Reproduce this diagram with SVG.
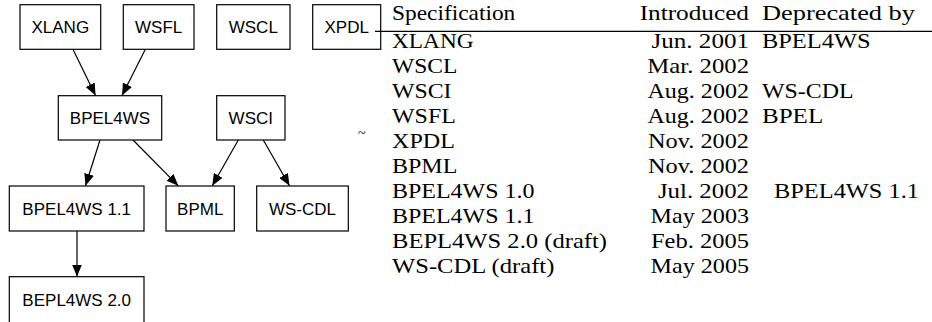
<svg xmlns="http://www.w3.org/2000/svg" width="932" height="322" viewBox="0 0 932 322">
<style>
.n rect{fill:#fff;stroke:#000;stroke-width:1.2}
.n text{font-family:"Liberation Sans",Arial,sans-serif;font-size:17px;fill:#000;text-anchor:middle}
.e line{stroke:#000;stroke-width:1.2;marker-end:url(#ah)}
.t text{font-family:"Liberation Serif","Times New Roman",serif;font-size:21px;fill:#000}
</style>
<defs>
<marker id="ah" viewBox="0 0 12 10" refX="12" refY="5" markerWidth="12" markerHeight="10" markerUnits="userSpaceOnUse" orient="auto">
<path d="M0,0 L12,5 L0,10 Z" fill="#000"/>
</marker>
</defs>
<g id="edges" class="e">
<line x1="73.3" y1="50" x2="95.5" y2="95.5"/>
<line x1="145" y1="50" x2="122" y2="95.5"/>
<line x1="100" y1="140" x2="85.5" y2="185.8"/>
<line x1="133" y1="140" x2="178.3" y2="185.8"/>
<line x1="238.3" y1="140" x2="212.3" y2="185.8"/>
<line x1="263.3" y1="140" x2="289.5" y2="185.8"/>
<line x1="77" y1="231" x2="77" y2="276.5"/>
</g>
<g id="n-xlang" class="n"><rect x="20" y="4.7" width="80.7" height="44.6"/><text x="60.3" y="33.3">XLANG</text></g>
<g id="n-wsfl" class="n"><rect x="123.3" y="4.7" width="70.7" height="44.6"/><text x="158.7" y="33.3">WSFL</text></g>
<g id="n-wscl" class="n"><rect x="216.7" y="4.7" width="73.3" height="44.6"/><text x="253.3" y="33.3">WSCL</text></g>
<g id="n-xpdl" class="n"><rect x="312.7" y="4.7" width="68" height="44.6"/><text x="346.7" y="33.3">XPDL</text></g>
<g id="n-bpel4ws" class="n"><rect x="58.3" y="95.7" width="103.4" height="44.3"/><text x="110" y="124.3">BPEL4WS</text></g>
<g id="n-wsci" class="n"><rect x="216.7" y="95.7" width="68.3" height="44.3"/><text x="250.8" y="124.3">WSCI</text></g>
<g id="n-bpel4ws11" class="n"><rect x="9.3" y="186" width="134.7" height="45"/><text x="76.7" y="214.8">BPEL4WS 1.1</text></g>
<g id="n-bpml" class="n"><rect x="166" y="186" width="68.3" height="45"/><text x="200.2" y="214.8">BPML</text></g>
<g id="n-wscdl" class="n"><rect x="256.7" y="186" width="91.6" height="45"/><text x="302.5" y="214.8">WS-CDL</text></g>
<g id="n-bepl4ws20" class="n"><rect x="9.3" y="276.7" width="134.7" height="48"/><text x="76.7" y="305.5">BEPL4WS 2.0</text></g>
<g id="table" class="t">
<line x1="375" y1="31.3" x2="932" y2="31.3" stroke="#000" stroke-width="1.2"/>
<text x="392" y="20" textLength="123.3" lengthAdjust="spacingAndGlyphs">Specification</text>
<text x="639.7" y="20" textLength="109.3" lengthAdjust="spacingAndGlyphs">Introduced</text>
<text x="762" y="20" textLength="153" lengthAdjust="spacingAndGlyphs">Deprecated by</text>
<text x="392" y="47.5" textLength="81.6" lengthAdjust="spacingAndGlyphs">XLANG</text><text x="651.5" y="47.5" textLength="97.5" lengthAdjust="spacingAndGlyphs">Jun. 2001</text><text x="762" y="47.5" textLength="108.5" lengthAdjust="spacingAndGlyphs">BPEL4WS</text>
<text x="392" y="72.5" textLength="65.4" lengthAdjust="spacingAndGlyphs">WSCL</text><text x="647.3" y="72.5" textLength="101.7" lengthAdjust="spacingAndGlyphs">Mar. 2002</text>
<text x="392" y="97.5" textLength="59.5" lengthAdjust="spacingAndGlyphs">WSCI</text><text x="647.4" y="97.5" textLength="101.6" lengthAdjust="spacingAndGlyphs">Aug. 2002</text><text x="762" y="97.5" textLength="91.5" lengthAdjust="spacingAndGlyphs">WS-CDL</text>
<text x="392" y="122.5" textLength="63.8" lengthAdjust="spacingAndGlyphs">WSFL</text><text x="647.4" y="122.5" textLength="101.6" lengthAdjust="spacingAndGlyphs">Aug. 2002</text><text x="762" y="122.5" textLength="61.2" lengthAdjust="spacingAndGlyphs">BPEL</text>
<text x="392" y="147.5" textLength="62.9" lengthAdjust="spacingAndGlyphs">XPDL</text><text x="648.1" y="147.5" textLength="100.9" lengthAdjust="spacingAndGlyphs">Nov. 2002</text>
<text x="392" y="172.5" textLength="65.4" lengthAdjust="spacingAndGlyphs">BPML</text><text x="648.1" y="172.5" textLength="100.9" lengthAdjust="spacingAndGlyphs">Nov. 2002</text>
<text x="392" y="197.5" textLength="142.5" lengthAdjust="spacingAndGlyphs">BPEL4WS 1.0</text><text x="657.9" y="197.5" textLength="91.1" lengthAdjust="spacingAndGlyphs">Jul. 2002</text><text x="774" y="197.5" textLength="145" lengthAdjust="spacingAndGlyphs">BPEL4WS 1.1</text>
<text x="392" y="222.5" textLength="142.5" lengthAdjust="spacingAndGlyphs">BPEL4WS 1.1</text><text x="650.6" y="222.5" textLength="98.4" lengthAdjust="spacingAndGlyphs">May 2003</text>
<text x="392" y="247.5" textLength="215" lengthAdjust="spacingAndGlyphs">BEPL4WS 2.0 (draft)</text><text x="650.9" y="247.5" textLength="98.1" lengthAdjust="spacingAndGlyphs">Feb. 2005</text>
<text x="392" y="272.5" textLength="162.4" lengthAdjust="spacingAndGlyphs">WS-CDL (draft)</text><text x="650.6" y="272.5" textLength="98.4" lengthAdjust="spacingAndGlyphs">May 2005</text>
<text x="358" y="138" style="font-size:14px">~</text>
</g>
</svg>
